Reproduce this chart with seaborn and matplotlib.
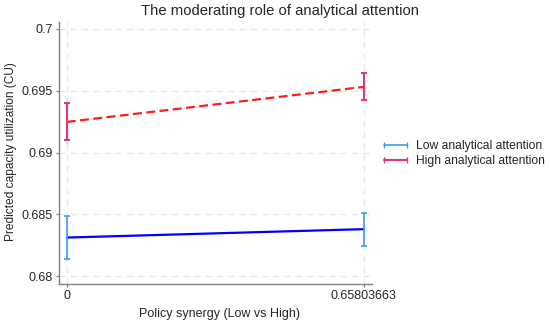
import matplotlib
matplotlib.use("Agg")
import matplotlib.pyplot as plt
import numpy as np
import pandas as pd
import seaborn as sns
from matplotlib.lines import Line2D

# data
synergy = [0, 0.65803663]
low_pred = [0.68313, 0.68381]
low_lo = [0.68141, 0.68248]
low_hi = [0.68486, 0.68513]
high_pred = [0.69248, 0.69531]
high_lo = [0.69100, 0.69428]
high_hi = [0.69400, 0.69644]
groups = ["Low analytical attention", "High analytical attention"]
y_ticks = [0.68, 0.685, 0.69, 0.695, 0.7]
y_tick_labels = ["0.68", "0.685", "0.69", "0.695", "0.7"]
x_tick_labels = ["0", "0.65803663"]

df = pd.DataFrame({
    "synergy": synergy * 2,
    "pred": low_pred + high_pred,
    "lo": low_lo + high_lo,
    "hi": low_hi + high_hi,
    "group": [groups[0]] * 2 + [groups[1]] * 2,
})

sns.set_style("white")
plt.rcParams["font.family"] = ["Liberation Sans", "DejaVu Sans"]

fig = plt.figure(figsize=(5.5, 3.26), dpi=100)
ax = fig.add_axes([0.107, 0.129, 0.569, 0.804])

line_colors = {groups[0]: "#0000ff", groups[1]: "#ff1a1a"}
ci_colors = {groups[0]: "#3c9bff", groups[1]: "#e23a6e"}
ci_widths = {groups[0]: 1.2, groups[1]: 1.5}

sns.lineplot(data=df, x="synergy", y="pred", hue="group", style="group",
             palette=line_colors, dashes={groups[0]: "", groups[1]: (4, 2)},
             linewidth=1.6, legend=False, ax=ax, zorder=3)

for g in groups:
    d = df[df["group"] == g]
    yerr = [d["pred"] - d["lo"], d["hi"] - d["pred"]]
    ax.errorbar(d["synergy"], d["pred"], yerr=yerr, fmt="none",
                ecolor=ci_colors[g], elinewidth=ci_widths[g], capsize=2.5,
                capthick=ci_widths[g], zorder=4)

# grid and axes in Stata style
ax.set_xlim(-0.0177, 0.6758)
ax.set_ylim(0.67938, 0.70057)
ax.set_yticks(y_ticks)
ax.set_yticklabels(y_tick_labels)
ax.set_xticks(synergy)
ax.set_xticklabels(x_tick_labels)
ax.grid(True, color="#e6e6e6", linestyle=(0, (5, 4)), linewidth=0.9)
for side in ["top", "right"]:
    ax.spines[side].set_visible(False)
for side in ["left", "bottom"]:
    ax.spines[side].set_color("#7f7f7f")
    ax.spines[side].set_linewidth(1.0)
ax.tick_params(axis="both", which="both", length=2.5, width=0.9, color="#7f7f7f",
               labelsize=9, left=True, bottom=True, pad=2)
ax.set_xlabel("Policy synergy (Low vs High)", fontsize=9, va="top")
ax.xaxis.set_label_coords(0.513, -0.092)
ax.set_ylabel("Predicted capacity utilization (CU)", fontsize=8.6)
ax.yaxis.set_label_coords(-0.134, 0.504)
fig.text(0.509, 0.966, "The moderating role of analytical attention",
         ha="center", va="center", fontsize=10.7)

handles = [Line2D([0], [0], color=ci_colors[g], lw=ci_widths[g],
                  marker="|", markersize=4) for g in groups]
fig.legend(handles, groups, loc="center left", bbox_to_anchor=(0.671, 0.529),
           frameon=False, fontsize=8.7, handlelength=2.57, handletextpad=0.4,
           labelspacing=0.25, numpoints=2)

fig.savefig("out.png", dpi=100)
